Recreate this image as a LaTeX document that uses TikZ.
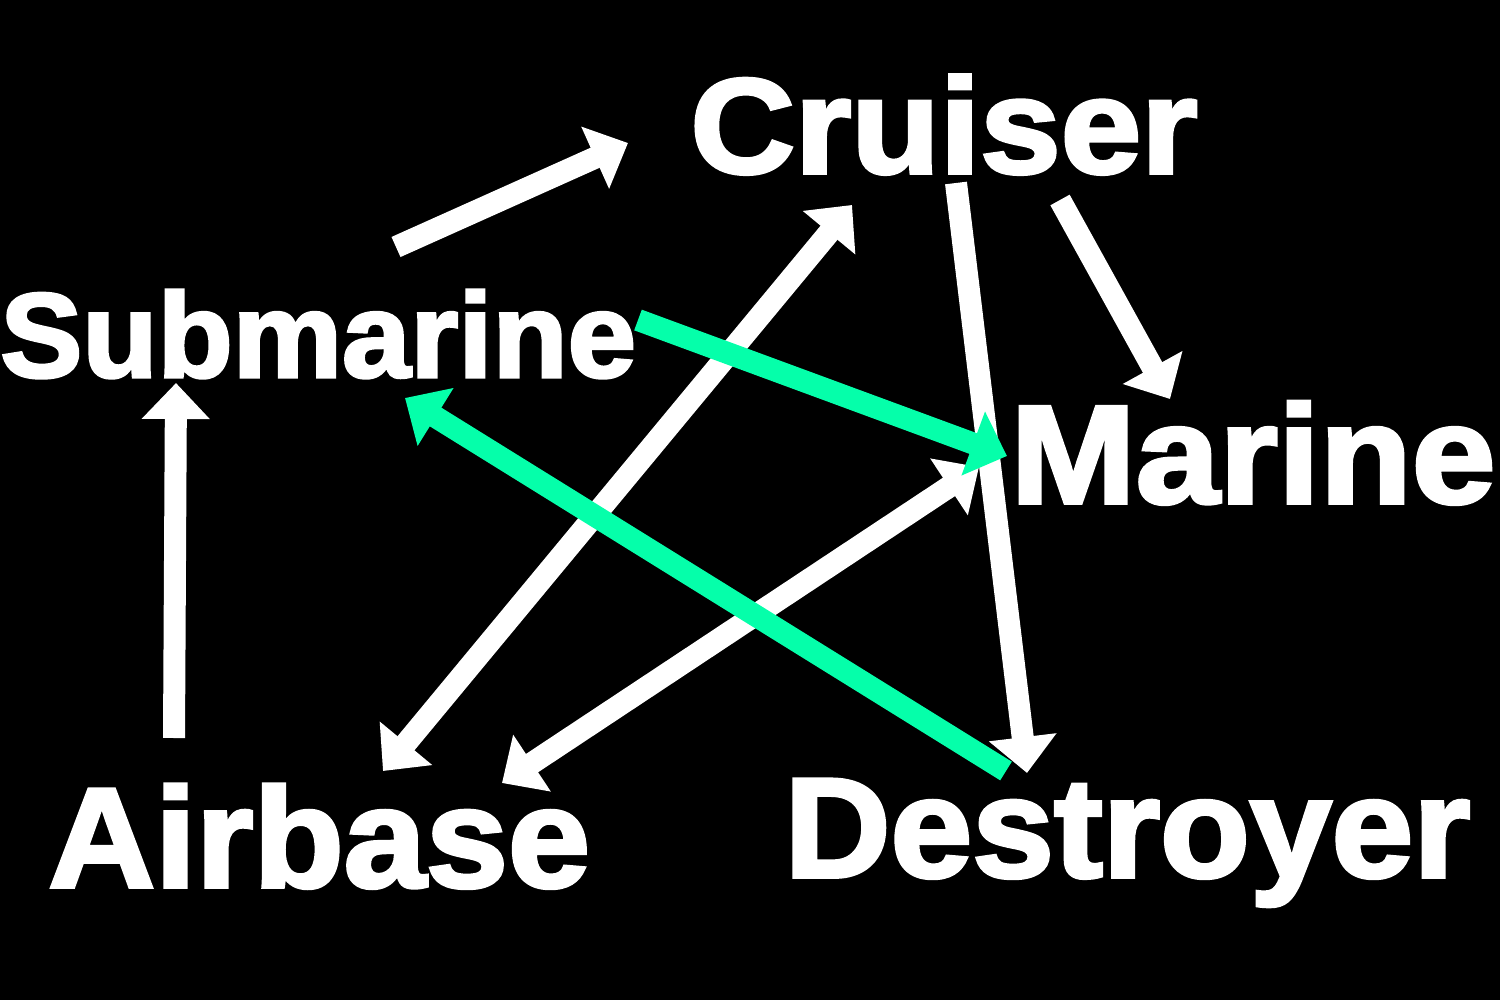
\documentclass[tikz,border=0pt]{standalone}
\usepackage{fontspec}
\usepackage{graphicx}
\newfontfamily\heavy[FakeBold=2.6]{Liberation Sans Bold}
\usetikzlibrary{arrows.meta}
\definecolor{mint}{HTML}{05FFAA}
\tikzset{
  lbl/.style={anchor=base west, inner sep=0pt, text=white, font=\heavy},
  conn/.style={line width=11pt, draw=white, -{Triangle[width=33pt,length=18pt]}},
  dconn/.style={line width=11pt, draw=white, {Triangle[width=33pt,length=18pt]}-{Triangle[width=33pt,length=18pt]}},
  gconn/.style={line width=11pt, draw=mint, -{Triangle[width=33pt,length=18pt]}}
}
\begin{document}
\begin{tikzpicture}[x=0.5pt,y=-0.5pt]
\fill[black] (0,0) rectangle (1500,1000);
\useasboundingbox (0,0) rectangle (1500,1000);
% labels
\node[lbl, font=\heavy\fontsize{67.7pt}{70pt}\selectfont] (Cruiser) at (690,173) {\scalebox{1.07}[1]{Cruiser}};
\node[lbl, font=\heavy\fontsize{60pt}{62pt}\selectfont] (Submarine) at (0,377) {\scalebox{1.025}[1]{Submarine}};
\node[lbl, font=\heavy\fontsize{70pt}{72pt}\selectfont] (Marine) at (1010,503) {\scalebox{1.075}[1]{Marine}};
\node[lbl, font=\heavy\fontsize{71pt}{73pt}\selectfont] (Airbase) at (48,887) {\scalebox{1.04}[1]{Airbase}};
\node[lbl, font=\heavy\fontsize{71pt}{73pt}\selectfont] (Destroyer) at (784,877) {\scalebox{1.035}[1]{Destroyer}};
% connector end points
\coordinate (subC) at (396,247);   \coordinate (cruS) at (628,143);
\coordinate (airS) at (174,738);   \coordinate (subA) at (176,383);
\coordinate (airC) at (383,771);   \coordinate (cruA) at (852,205);
\coordinate (airM) at (502,783);   \coordinate (marA) at (979,467);
\coordinate (cruD) at (956,183);   \coordinate (desC) at (1027,773);
\coordinate (cruM) at (1060,200);  \coordinate (marC) at (1170,399);
\coordinate (subM) at (638,320);   \coordinate (marS) at (1007,456);
\coordinate (desS) at (1006,771);  \coordinate (subD) at (405,398);
% white connectors
\draw[conn] (subC) -- (cruS);
\draw[conn] (airS) -- (subA);
\draw[dconn] (airC) -- (cruA);
\draw[dconn] (airM) -- (marA);
\draw[conn] (cruD) -- (desC);
\draw[conn] (cruM) -- (marC);
% green connectors
\draw[gconn] (subM) -- (marS);
\draw[gconn] (desS) -- (subD);
\end{tikzpicture}
\end{document}
